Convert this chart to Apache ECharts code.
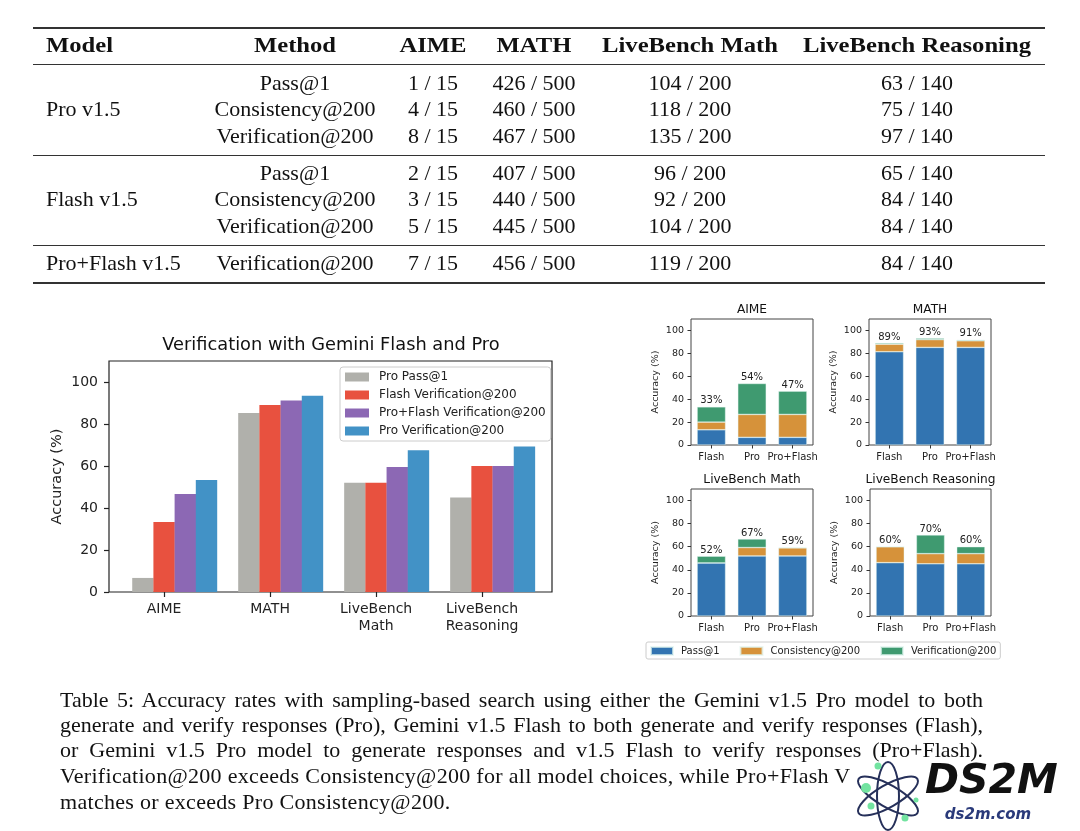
<!DOCTYPE html>
<html><head><meta charset="utf-8">
<script src="https://cdn.jsdelivr.net/npm/echarts@6/dist/echarts.min.js"></script>
<style>
html,body{margin:0;padding:0;background:#fff;}
#wrap{position:relative;width:1080px;height:831px;overflow:hidden;background:#fff;}
#chart{position:absolute;left:0;top:0;width:1080px;height:831px;}
.t{position:absolute;font-family:"Liberation Serif",serif;font-size:22px;color:#111;white-space:nowrap;line-height:1;}
.c{transform:translate(-50%,-50%);}
.l{transform:translate(0,-50%);}
.b{font-weight:bold;}
.c.b{transform:translate(-50%,-50%) scaleX(1.12);}
.l.b{transform:translate(0,-50%) scaleX(1.12);transform-origin:left center;}
.rule{position:absolute;left:33px;width:1012px;background:#333;}
.cap{position:absolute;left:60px;width:923px;font-family:"Liberation Serif",serif;font-size:22px;letter-spacing:0.3px;color:#111;line-height:1;white-space:nowrap;transform:translate(0,-50%);}
.just{text-align:justify;text-align-last:justify;white-space:normal;letter-spacing:0;}
</style></head>
<body><div id="wrap"><div id="chart"></div><div id="table"></div><div id="caption"></div></div>
<script>
// ---------- table data ----------
const tableHeaders = ['Model','Method','AIME','MATH','LiveBench Math','LiveBench Reasoning'];
const models = ['Pro v1.5','Flash v1.5','Pro+Flash v1.5'];
const methods = ['Pass@1','Consistency@200','Verification@200','Pass@1','Consistency@200','Verification@200','Verification@200'];
const aimeScores = ['1 / 15','4 / 15','8 / 15','2 / 15','3 / 15','5 / 15','7 / 15'];
const mathScores = ['426 / 500','460 / 500','467 / 500','407 / 500','440 / 500','445 / 500','456 / 500'];
const lbMathScores = ['104 / 200','118 / 200','135 / 200','96 / 200','92 / 200','104 / 200','119 / 200'];
const lbReasScores = ['63 / 140','75 / 140','97 / 140','65 / 140','84 / 140','84 / 140','84 / 140'];
const captionLines = [
  'Table 5: Accuracy rates with sampling-based search using either the Gemini v1.5 Pro model to both',
  'generate and verify responses (Pro), Gemini v1.5 Flash to both generate and verify responses (Flash),',
  'or Gemini v1.5 Pro model to generate responses and v1.5 Flash to verify responses (Pro+Flash).',
  'Verification@200 exceeds Consistency@200 for all model choices, while Pro+Flash V',
  'matches or exceeds Pro Consistency@200.'
];

// ---------- main chart data ----------
const mainCats = ['AIME','MATH','LiveBench\nMath','LiveBench\nReasoning'];
const mainSeriesNames = ['Pro Pass@1','Flash Verification@200','Pro+Flash Verification@200','Pro Verification@200'];
const proPass1 = [6.7, 85.2, 52.0, 45.0];
const flashVerif = [33.3, 89.0, 52.0, 60.0];
const proFlashVerif = [46.7, 91.2, 59.5, 60.0];
const proVerif = [53.3, 93.4, 67.5, 69.3];
const yTicks = [0, 20, 40, 60, 80, 100];

// ---------- small multiples data ----------
const panelTitles = ['AIME','MATH','LiveBench Math','LiveBench Reasoning'];
const smallCats = ['Flash','Pro','Pro+Flash'];
const stackNames = ['Pass@1','Consistency@200','Verification@200'];
const aimePass = [13.3, 6.7, 6.7], aimeCons = [6.7, 20.0, 20.0], aimeVerif = [13.3, 27.0, 20.3];
const aimeLabels = ['33%','54%','47%'];
const mathPass = [81.4, 85.2, 85.2], mathCons = [6.6, 6.8, 5.8], mathVerif = [1.0, 1.2, 0.8];
const mathLabels = ['89%','93%','91%'];
const lbMathPass = [46.0, 52.0, 52.0], lbMathCons = [0.0, 7.3, 7.0], lbMathVerif = [5.8, 7.4, 0.4];
const lbMathLabels = ['52%','67%','59%'];
const lbReasPass = [46.2, 45.2, 45.2], lbReasCons = [13.8, 8.8, 8.8], lbReasVerif = [0.0, 16.2, 6.0];
const lbReasLabels = ['60%','70%','60%'];

// ---------- styles / layout ----------
const mainColors = ['#b0b0ab','#e8513f','#8c68b4','#4292c6'];
const stackColors = ['#3274b1','#d6923a','#3f9a70'];
const barOffsets = [-0.2, 0, 0.2, 0.4];
const SANS = '"DejaVu Sans", sans-serif';

// ---------- build table ----------
(function(){
  const tb = document.getElementById('table');
  const colX = [295, 433, 534, 690, 917];
  const headerY = 45;
  const rowY = [83, 109, 136, 173, 199, 226, 263];
  const modelY = [109, 199, 263];
  let h = '';
  h += `<div class="t l b" style="left:46px;top:${headerY}px">${tableHeaders[0]}</div>`;
  for (let i = 1; i < tableHeaders.length; i++)
    h += `<div class="t c b" style="left:${colX[i-1]}px;top:${headerY}px">${tableHeaders[i]}</div>`;
  models.forEach((m, i) => { h += `<div class="t l" style="left:46px;top:${modelY[i]}px">${m}</div>`; });
  const cols = [methods, aimeScores, mathScores, lbMathScores, lbReasScores];
  rowY.forEach((y, r) => {
    cols.forEach((col, c) => { h += `<div class="t c" style="left:${colX[c]}px;top:${y}px">${col[r]}</div>`; });
  });
  [[27,2],[64,1],[155,1],[245,1],[282,2]].forEach(([y,th]) => { h += `<div class="rule" style="top:${y}px;height:${th}px"></div>`; });
  tb.innerHTML = h;
  const cp = document.getElementById('caption');
  const capY = [700, 725, 750, 776, 802];
  cp.innerHTML = captionLines.map((s, i) => `<div class="cap${i < 3 ? ' just' : ''}" style="top:${capY[i]}px">${s}</div>`).join('');
})();

// ---------- chart ----------
const chart = echarts.init(document.getElementById('chart'), null, {renderer: 'canvas'});
const panelGrids = [
  {left: 691, top: 319, width: 122, height: 126},
  {left: 869, top: 319, width: 122, height: 126},
  {left: 691, top: 489, width: 122, height: 127},
  {left: 870, top: 489, width: 121, height: 127}
];
const grids = [{left: 109, top: 361, width: 443, height: 231, show: true, borderColor: '#222', borderWidth: 1.2}]
  .concat(panelGrids.map(g => Object.assign({show: true, borderColor: '#444', borderWidth: 1}, g)));

const xAxes = [], yAxes = [], series = [];
const mainData = [proPass1, flashVerif, proFlashVerif, proVerif];
mainData.forEach((arr, k) => {
  xAxes.push({
    type: 'value', gridIndex: 0, min: -0.52, max: 3.66, show: k === 0,
    axisLine: {show: false, onZero: false}, splitLine: {show: false},
    axisTick: {show: true, length: 5, lineStyle: {color: '#222', width: 1.2}, customValues: [0, 1, 2, 3]},
    axisLabel: {customValues: [0, 1, 2, 3], formatter: v => mainCats[Math.round(v)], fontFamily: SANS, fontSize: 14, color: '#222', margin: 9, lineHeight: 17}
  });
  series.push({
    type: 'bar', name: mainSeriesNames[k], xAxisIndex: k, yAxisIndex: 0, barWidth: 21.4,
    itemStyle: {color: mainColors[k]},
    data: arr.map((v, i) => [i + barOffsets[k], v])
  });
});
yAxes.push({
  type: 'value', gridIndex: 0, min: 0, max: 110,
  axisLine: {show: false, onZero: false}, splitLine: {show: false},
  axisTick: {show: true, length: 5, lineStyle: {color: '#222', width: 1.2}, customValues: yTicks},
  axisLabel: {customValues: yTicks, fontFamily: SANS, fontSize: 14, color: '#222', margin: 11},
  name: 'Accuracy (%)', nameLocation: 'middle', nameGap: 44,
  nameTextStyle: {fontFamily: SANS, fontSize: 14.5, color: '#222'}
});

const panelData = [
  [aimePass, aimeCons, aimeVerif, aimeLabels],
  [mathPass, mathCons, mathVerif, mathLabels],
  [lbMathPass, lbMathCons, lbMathVerif, lbMathLabels],
  [lbReasPass, lbReasCons, lbReasVerif, lbReasLabels]
];
panelData.forEach((pd, p) => {
  xAxes.push({
    type: 'category', gridIndex: p + 1, data: smallCats,
    axisLine: {show: false, onZero: false}, splitLine: {show: false},
    axisTick: {show: true, alignWithLabel: true, length: 3.5, lineStyle: {color: '#333'}},
    axisLabel: {fontFamily: SANS, fontSize: 10, color: '#222', margin: 7, interval: 0}
  });
  yAxes.push({
    type: 'value', gridIndex: p + 1, min: 0, max: 110,
    axisLine: {show: false, onZero: false}, splitLine: {show: false},
    axisTick: {show: true, length: 3.5, lineStyle: {color: '#333'}, customValues: yTicks},
    axisLabel: {customValues: yTicks, fontFamily: SANS, fontSize: 9.5, color: '#222', margin: 7},
    name: 'Accuracy (%)', nameLocation: 'middle', nameGap: 30,
    nameTextStyle: {fontFamily: SANS, fontSize: 9.5, color: '#222'}
  });
  for (let k = 0; k < 3; k++) {
    const s = {
      type: 'bar', name: stackNames[k], xAxisIndex: 4 + p, yAxisIndex: 1 + p, stack: 'panel' + p,
      barWidth: '70%', data: pd[k],
      itemStyle: {color: stackColors[k], borderColor: 'rgba(225,245,240,0.7)', borderWidth: 0.6}
    };
    if (k === 2) {
      s.label = {show: true, position: 'top', distance: 1, fontFamily: SANS, fontSize: 10, color: '#222',
        formatter: params => pd[3][params.dataIndex]};
    }
    series.push(s);
  }
});

const titleText = (x, y, text, size) => ({
  type: 'text', x: x, y: y, silent: true,
  style: {text: text, fontFamily: SANS, fontSize: size, fill: '#111', align: 'center', verticalAlign: 'middle',
          textAlign: 'center', textVerticalAlign: 'middle'}
});
const graphics = [titleText(331, 345, 'Verification with Gemini Flash and Pro', 17.8)];
panelGrids.forEach((g, i) => graphics.push(titleText(g.left + g.width / 2, g.top - 9, panelTitles[i], 12.2)));

// watermark
[Math.PI / 2, Math.PI / 6, -Math.PI / 6].forEach(r => graphics.push({
  type: 'ellipse', x: 888, y: 796, rotation: r, silent: true,
  shape: {cx: 0, cy: 0, rx: 34, ry: 11},
  style: {fill: 'none', stroke: '#26305a', lineWidth: 2}
}));
[[866, 788, 5], [878, 766, 3.5], [871, 806, 3.5], [905, 818, 3.5], [916, 800, 2.5]].forEach(c => graphics.push({
  type: 'circle', silent: true, shape: {cx: c[0], cy: c[1], r: c[2]}, style: {fill: '#72e3a0'}
}));
graphics.push({type: 'text', x: 925, y: 782, silent: true,
  style: {text: 'DS2M', fontFamily: SANS, fontSize: 41, fontWeight: 'bold', fontStyle: 'italic', fill: '#111',
          align: 'left', verticalAlign: 'middle', textAlign: 'left', textVerticalAlign: 'middle'}});
graphics.push({type: 'text', x: 988, y: 815, silent: true,
  style: {text: 'ds2m.com', fontFamily: SANS, fontSize: 15, fontWeight: 'bold', fontStyle: 'italic', fill: '#2a3a7a',
          align: 'center', verticalAlign: 'middle', textAlign: 'center', textVerticalAlign: 'middle'}});

chart.setOption({
  animation: false,
  backgroundColor: 'transparent',
  grid: grids,
  xAxis: xAxes,
  yAxis: yAxes,
  legend: [
    {data: mainSeriesNames, orient: 'vertical', left: 340, top: 367, icon: 'rect', itemWidth: 24, itemHeight: 9,
     itemGap: 6, padding: [4, 5, 4, 5], borderColor: '#ccc', borderWidth: 1, borderRadius: 3,
     textStyle: {fontFamily: SANS, fontSize: 12, color: '#222', padding: [0, 0, 0, 5]}, selectedMode: false},
    {data: stackNames, orient: 'horizontal', left: 646, top: 642, icon: 'rect', itemWidth: 22, itemHeight: 8,
     itemGap: 20, padding: [4, 4, 3, 4], borderColor: '#ccc', borderWidth: 1, borderRadius: 2,
     textStyle: {fontFamily: SANS, fontSize: 10, color: '#222', padding: [0, 0, 0, 3]}, selectedMode: false}
  ],
  series: series,
  graphic: graphics
});
</script>
</body></html>
